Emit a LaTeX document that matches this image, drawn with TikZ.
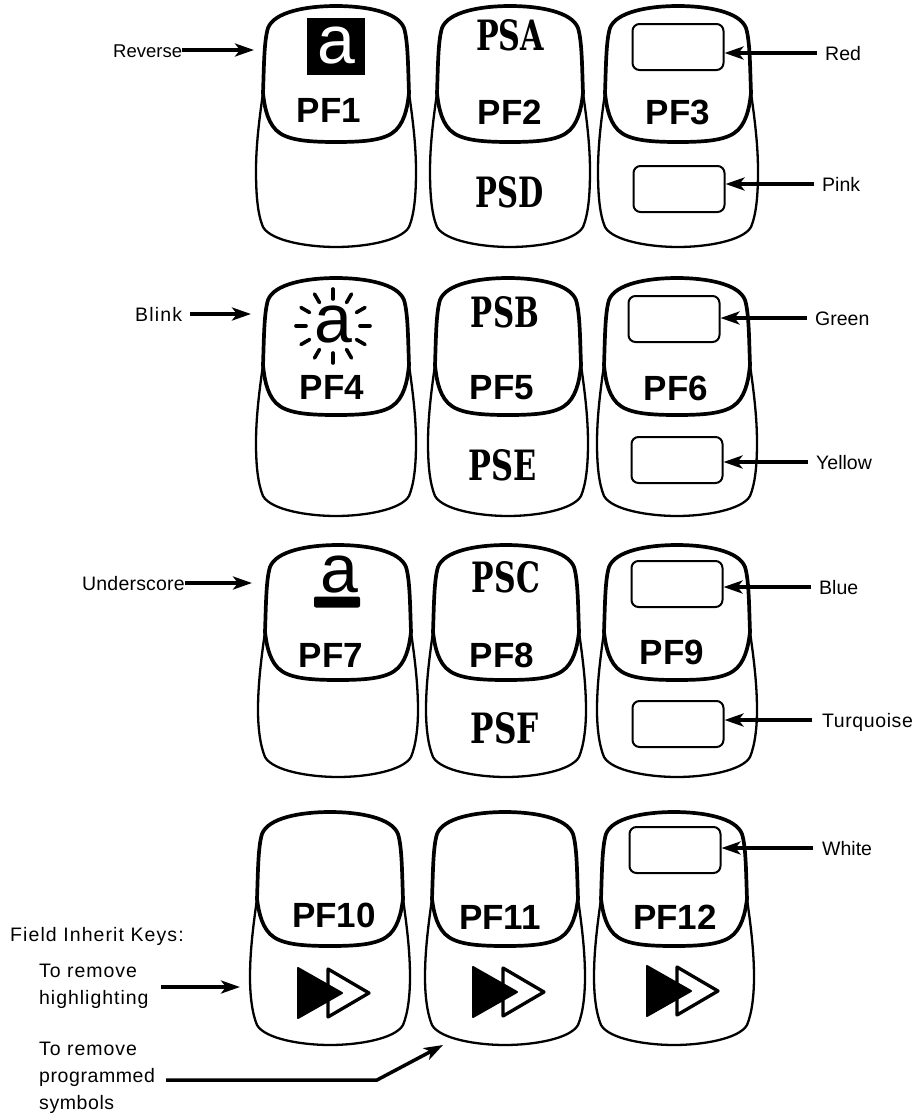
\documentclass[tikz,border=0pt]{standalone}
\usepackage{fontspec}
\usepackage{graphicx}
\setmainfont{Liberation Sans}
\newfontfamily\psfam{DejaVu Serif}
\usetikzlibrary{arrows.meta,calc}
\newcommand{\keyshape}[4]{%
 \begin{scope}[shift={(#1,#2)}]
  \draw[keyline] (-73,87) .. controls (-77,115) and (-80,140) .. (-80,165)
    .. controls (-80,{#4-50}) and (-78,{#4-32}) .. (-73,{#4-20})
    .. controls (-65,{#4-6}) and (-28,#4) .. (0,#4)
    .. controls (28,#4) and (65,{#4-6}) .. (73,{#4-20})
    .. controls (78,{#4-32}) and (80,{#4-50}) .. (80,165)
    .. controls (80,140) and (77,115) .. (73,87);
  \draw[capline] (-73,87) .. controls (-72,60) and (-72,35) .. (-68,22)
    .. controls (-62,6) and (-30,0) .. (0,0)
    .. controls (30,0) and (62,6) .. (68,22)
    .. controls (72,35) and (72,60) .. (73,87)
    .. controls (72,{#3-40}) and (70,{#3-22}) .. (60,{#3-12})
    .. controls (50,{#3-2}) and (30,#3) .. (0,#3)
    .. controls (-30,#3) and (-50,{#3-2}) .. (-60,{#3-12})
    .. controls (-70,{#3-22}) and (-72,{#3-40}) .. cycle;
 \end{scope}}
\newcommand{\ffwd}[2]{%
 \begin{scope}[shift={(#1,#2)}]
  \draw[line width=3.3pt,line join=round] (32,-24) -- (73,0) -- (32,24) -- cycle;
  \fill[draw=black,line width=2pt,line join=round] (2,-25) -- (46,0) -- (2,25) -- cycle;
 \end{scope}}
\tikzset{
 x=1pt,y=-1pt,
 keyline/.style={line width=2.3pt,black},
 capline/.style={line width=3.7pt,black},
 pflabel/.style={inner sep=0pt,font=\fontsize{35}{35}\selectfont\bfseries},
 pslabel/.style={inner sep=0pt},
 txt/.style={inner sep=0pt,anchor=west,font=\fontsize{19.5}{27}\selectfont,text height=14pt,text depth=0pt},
 blocktxt/.style={inner sep=0pt,anchor=west,align=left,font=\fontsize{19.5}{27}\selectfont},
 pointer/.style={line width=3.5pt,-{Stealth[length=19pt,width=13pt,inset=5pt]}},
 swatch/.style={draw,line width=2pt,rounded corners=7pt,inner sep=0pt,minimum width=91pt,minimum height=46pt},
 glyph/.style={inner sep=0pt,font=\fontsize{68}{68}\selectfont},
 ray/.style={line width=3.6pt,line cap=round}
}
\newcommand{\pstxt}[1]{\resizebox{68pt}{31pt}{\psfam\bfseries #1}}
\newcommand{\spaced}[2]{{\addfontfeature{LetterSpace=#1}#2}}
\begin{document}
\begin{tikzpicture}
\useasboundingbox (0,0) rectangle (913,1117);
% keys
\keyshape{336}{6}{136}{241}
\keyshape{510}{6}{136}{241}
\keyshape{678}{6}{136}{241}
\keyshape{336}{278}{137}{238}
\keyshape{508}{278}{137}{238}
\keyshape{677}{278}{137}{238}
\keyshape{338}{545}{135}{232}
\keyshape{506}{545}{135}{232}
\keyshape{677}{545}{135}{232}
\keyshape{330}{812}{134}{233}
\keyshape{505}{812}{134}{233}
\keyshape{674}{812}{134}{233}
% key labels
\node[pflabel] (pf1) at (329,110) {PF1};
\node[pflabel] (pf2) at (510,112) {PF2};
\node[pflabel] (pf3) at (678,112) {PF3};
\node[pflabel] (pf4) at (332,387) {PF4};
\node[pflabel] (pf5) at (502,388) {PF5};
\node[pflabel] (pf6) at (676,388) {PF6};
\node[pflabel] (pf7) at (331,655) {PF7};
\node[pflabel] (pf8) at (502,655) {PF8};
\node[pflabel] (pf9) at (672,652) {PF9};
\node[pflabel] (pf10) at (334,915) {PF10};
\node[pflabel] (pf11) at (500,917) {PF11};
\node[pflabel] (pf12) at (675,917) {PF12};
\node[pslabel] (psa) at (510,35) {\pstxt{PSA}};
\node[pslabel] (psd) at (510,192) {\pstxt{PSD}};
\node[pslabel] (psb) at (505,312) {\pstxt{PSB}};
\node[pslabel] (pse) at (503,465) {\pstxt{PSE}};
\node[pslabel] (psc) at (506,577) {\pstxt{PSC}};
\node[pslabel] (psf) at (505,728) {\pstxt{PSF}};
% attribute glyphs
\node[fill=black,minimum width=58pt,minimum height=57pt,inner sep=0pt] (rev) at (336,46) {};
\node[glyph,text=white] (reva) at (336,46) {a};
\node[glyph] (blinka) at (333,325) {a};
\foreach \ang in {0,30,...,330}{\draw[ray] (333,326) ++(\ang:27) -- ++(\ang:10);}
\node[glyph] (unda) at (339,575) {a};
\node[fill=black,rounded corners=2pt,minimum width=46pt,minimum height=11pt,inner sep=0pt] (undbar) at (337,602) {};
% colour swatches
\node[swatch] (redbox) at (678,47) {};
\node[swatch] (pinkbox) at (679,189) {};
\node[swatch] (greenbox) at (674,319) {};
\node[swatch] (yellowbox) at (677,460) {};
\node[swatch] (bluebox) at (677,584) {};
\node[swatch] (turqbox) at (678,724) {};
\node[swatch] (whitebox) at (675,850) {};
% double arrows
\ffwd{296}{993}
\ffwd{471}{992}
\ffwd{645}{991}
% side labels
\node[txt,font=\fontsize{18.5}{27}\selectfont] (reverse) at (113,50) {Reverse};
\node[txt] (blink) at (135,314) {\spaced{6}{Blink}};
\node[txt] (underscore) at (82,583) {\spaced{1}{Underscore}};
\node[txt] (red) at (825,53) {Red};
\node[txt] (pink) at (822,184) {Pink};
\node[txt] (green) at (815,318) {Green};
\node[txt] (yellow) at (816,462) {Yellow};
\node[txt] (blue) at (819,587) {Blue};
\node[txt] (turq) at (822,720) {\spaced{3}{Turquoise}};
\node[txt] (white) at (822,848) {White};
\node[txt] (field) at (10,934) {\spaced{5.6}{Field Inherit Keys:}};
\node[blocktxt] (remhigh) at (39,986) {\spaced{5}{To remove}\\\spaced{5}{highlighting}};
\node[blocktxt] (remprog) at (39,1078) {\spaced{5}{To remove}\\\spaced{3}{programmed}\\\spaced{3}{symbols}};
% free ends
\coordinate (revtip) at (254,50);
\coordinate (blinktip) at (251,314);
\coordinate (undtip) at (252,583);
\coordinate (hightip) at (240,987);
\coordinate (bend) at (377,1080);
\coordinate (progtip) at (443,1045);
% pointers
\draw[pointer] (reverse.east) -- (revtip);
\draw[pointer] ([xshift=8pt]blink.east) -- (blinktip);
\draw[pointer] (underscore.east) -- (undtip);
\draw[pointer] ([xshift=-8pt]red.west) -- (redbox.east |- red.west);
\draw[pointer] ([xshift=-8pt]pink.west) -- (pinkbox.east |- pink.west);
\draw[pointer] ([xshift=-8pt]green.west) -- (greenbox.east |- green.west);
\draw[pointer] ([xshift=-8pt]yellow.west) -- (yellowbox.east |- yellow.west);
\draw[pointer] ([xshift=-8pt]blue.west) -- (bluebox.east |- blue.west);
\draw[pointer] ([xshift=-10pt]turq.west) -- (turqbox.east |- turq.west);
\draw[pointer] ([xshift=-9pt]white.west) -- (whitebox.east |- white.west);
\draw[pointer] ([xshift=12pt,yshift=-1pt]remhigh.east) -- (hightip);
\draw[pointer] ([xshift=11pt,yshift=-2pt]remprog.east) -- (bend) -- (progtip);
\end{tikzpicture}
\end{document}
